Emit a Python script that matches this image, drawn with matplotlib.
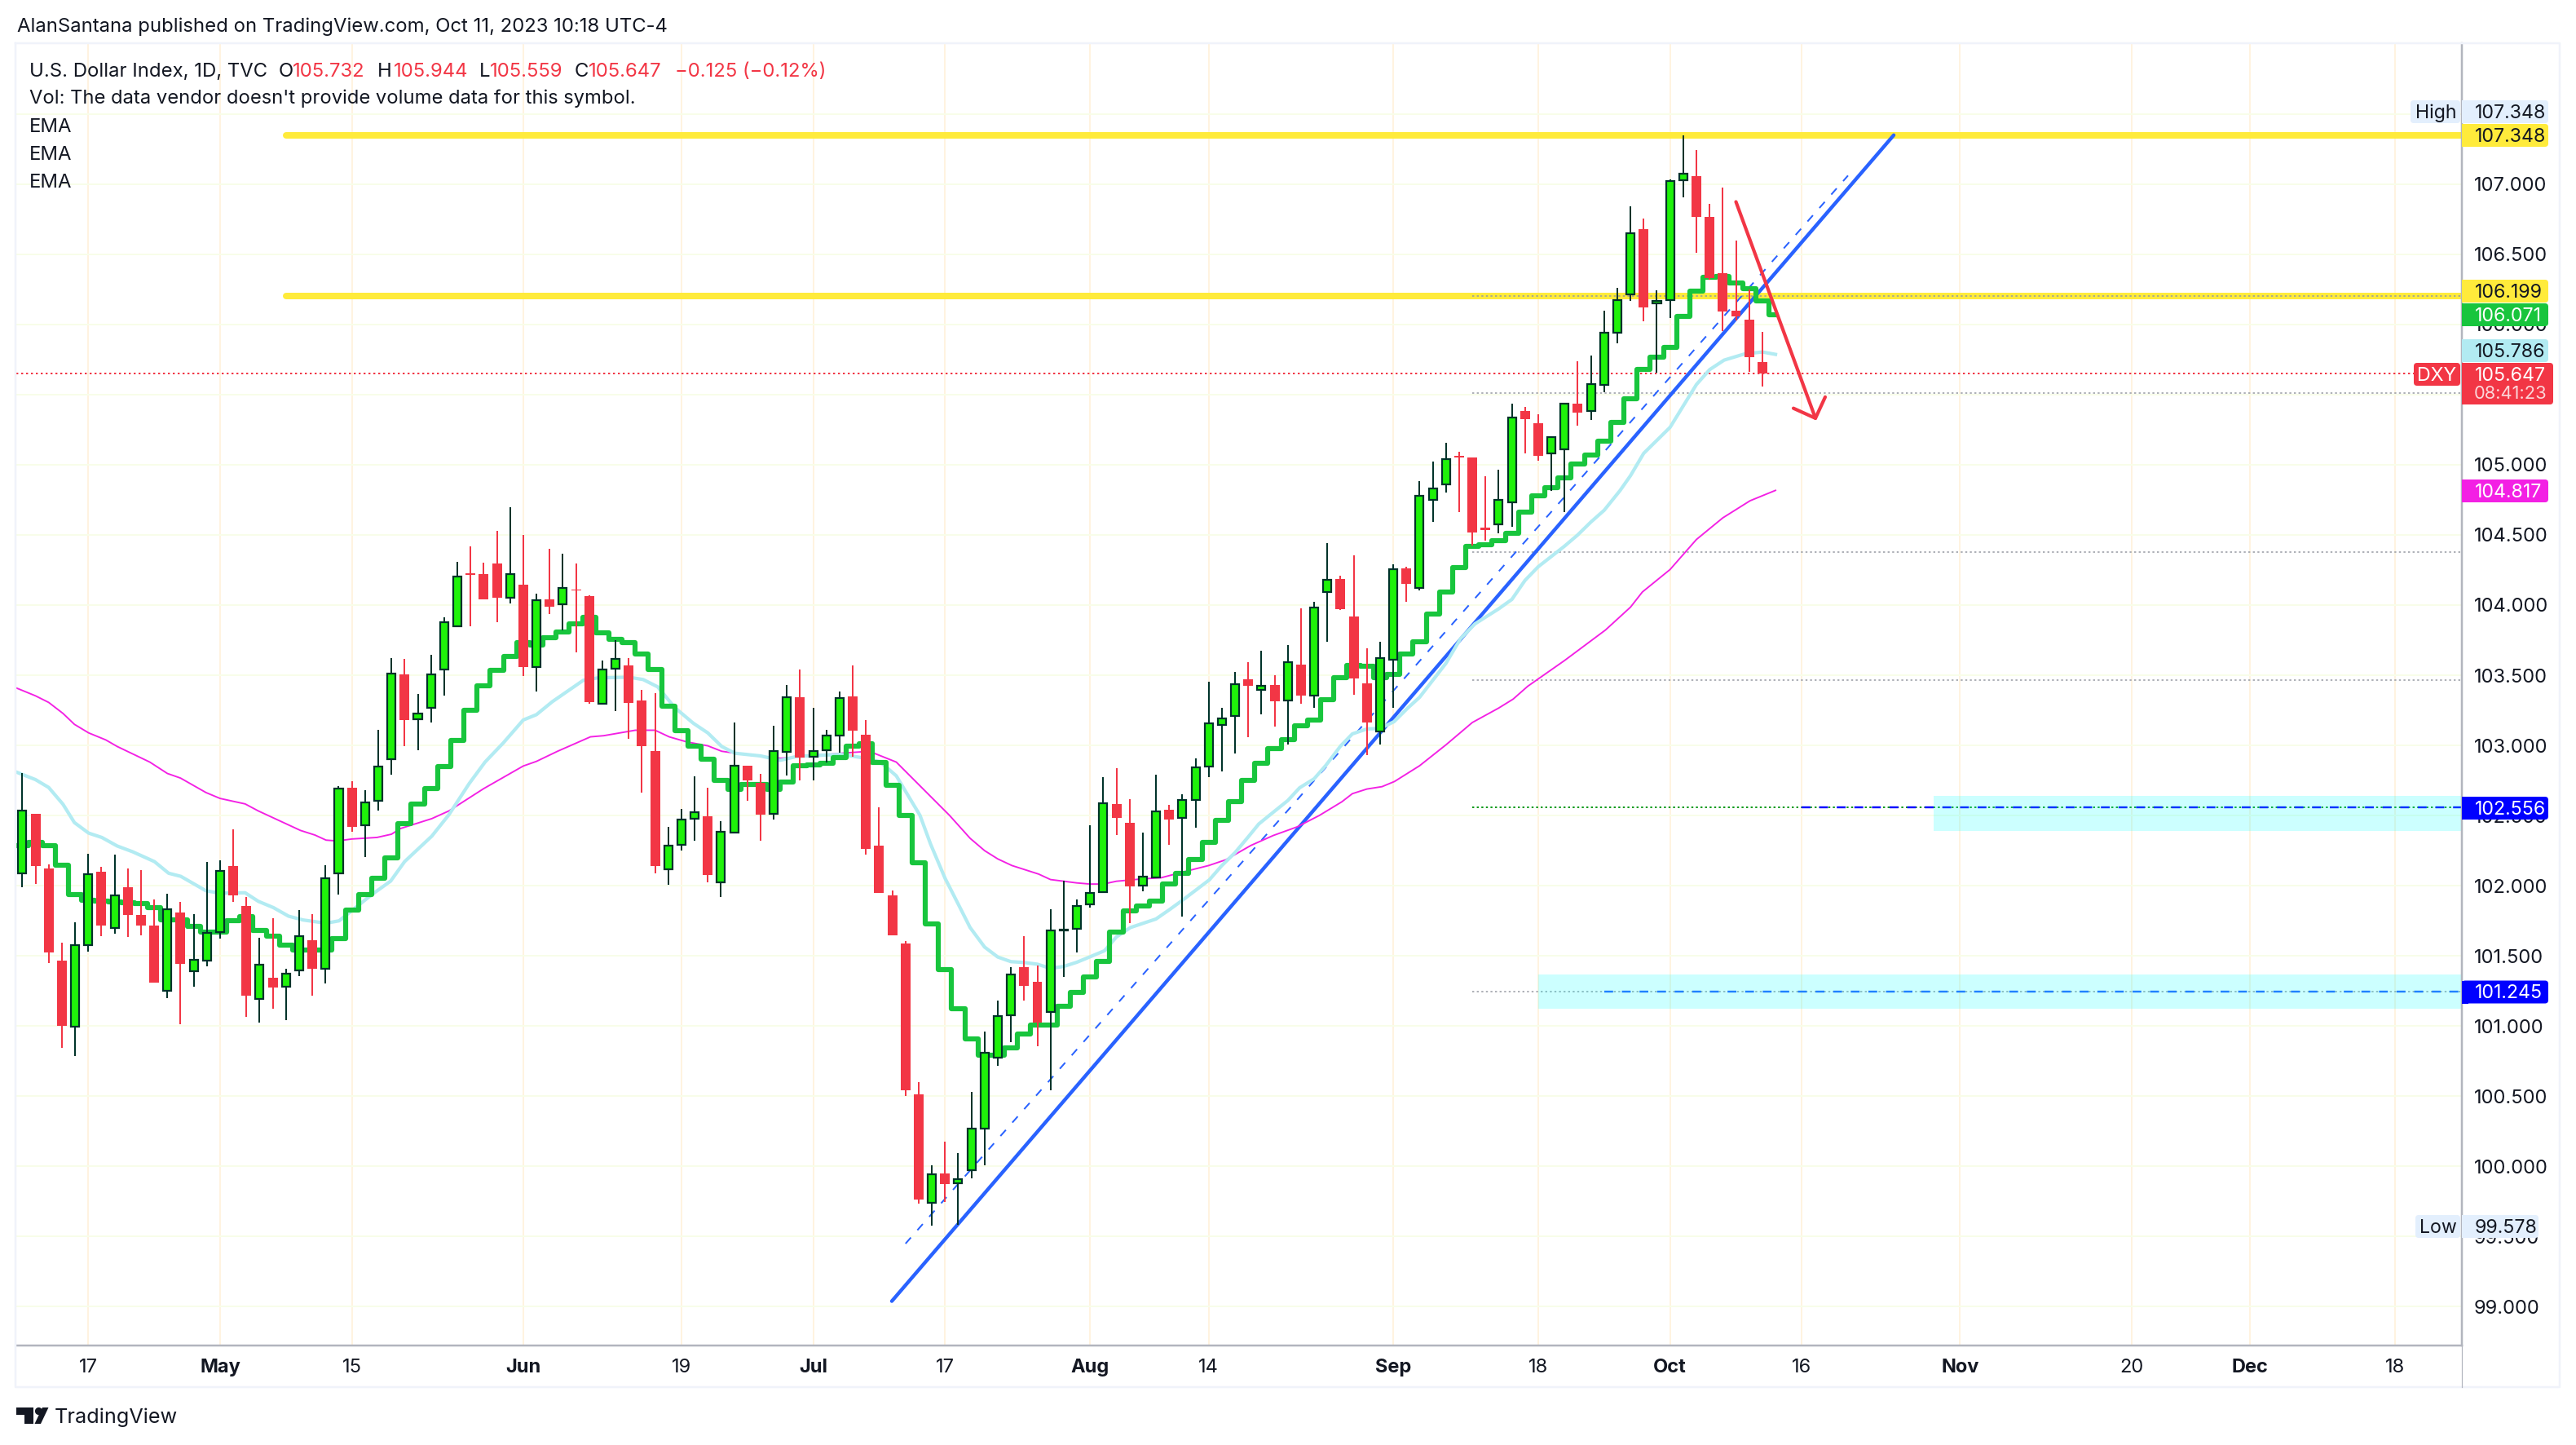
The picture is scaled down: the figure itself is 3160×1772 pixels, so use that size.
import matplotlib
matplotlib.use("Agg")
import numpy as np
import matplotlib.pyplot as plt
from matplotlib.patches import FancyBboxPatch, Rectangle, Polygon, Circle

plt.rcParams["font.family"] = ["Inter", "DejaVu Sans"]

# daily candles, index 0 is the first bar on the left
opens = [
    102.089, 102.514, 102.125, 101.469, 100.997, 101.578, 102.100, 101.700, 101.992, 101.794,
    101.717, 101.253, 101.811, 101.392, 101.469, 101.667, 102.142, 101.853, 101.194, 101.342,
    101.278, 101.397, 101.614, 101.406, 102.089, 102.700, 102.433, 102.606, 102.903, 103.506,
    103.186, 103.269, 103.542, 103.850, 104.225, 104.222, 104.297, 104.053, 104.144, 103.558,
    104.042, 104.006, 104.111, 104.061, 103.297, 103.547, 103.569, 103.319, 102.961, 102.119,
    102.294, 102.478, 102.492, 102.025, 102.381, 102.858, 102.733, 102.511, 102.956, 103.344,
    102.919, 102.967, 103.072, 103.347, 103.075, 102.283, 101.934, 101.588, 100.514, 99.739,
    99.949, 99.878, 99.971, 100.269, 100.775, 101.078, 101.421, 101.315, 101.099, 101.680,
    101.692, 101.865, 101.955, 102.580, 102.446, 102.002, 102.059, 102.540, 102.481, 102.611,
    102.847, 103.144, 103.210, 103.469, 103.394, 103.430, 103.320, 103.576, 103.353, 104.091,
    104.186, 103.919, 103.442, 103.099, 103.611, 104.261, 104.120, 104.747, 104.858, 105.061,
    105.051, 104.550, 104.573, 104.732, 105.383, 105.294, 105.080, 105.110, 105.433, 105.383,
    105.567, 105.939, 106.214, 106.679, 106.148, 106.173, 107.027, 107.056, 106.766, 106.365,
    106.097, 106.033, 105.732,
]
highs = [
    102.803, 102.514, 102.150, 101.597, 101.742, 102.228, 102.136, 102.222, 102.125, 102.114,
    101.903, 101.944, 101.886, 101.800, 102.172, 102.183, 102.403, 101.922, 101.631, 101.769,
    101.408, 101.828, 101.800, 102.147, 102.708, 102.747, 102.683, 103.111, 103.622, 103.617,
    103.367, 103.647, 103.914, 104.308, 104.419, 104.303, 104.528, 104.697, 104.500, 104.081,
    104.400, 104.367, 104.297, 104.069, 103.606, 103.747, 103.622, 103.394, 103.372, 102.419,
    102.547, 102.778, 102.700, 102.461, 103.164, 102.858, 102.797, 103.142, 103.431, 103.542,
    103.269, 103.111, 103.386, 103.569, 103.181, 102.561, 101.967, 101.606, 100.601, 100.008,
    100.177, 100.096, 100.532, 100.962, 101.182, 101.421, 101.641, 101.429, 101.832, 102.036,
    101.902, 102.432, 102.772, 102.838, 102.617, 102.379, 102.791, 102.574, 102.652, 102.908,
    103.454, 103.268, 103.523, 103.593, 103.673, 103.500, 103.715, 103.977, 104.023, 104.441,
    104.209, 104.354, 103.692, 103.738, 104.288, 104.271, 104.880, 105.022, 105.154, 105.092,
    105.051, 104.918, 104.964, 105.433, 105.410, 105.357, 105.199, 105.437, 105.735, 105.778,
    106.097, 106.258, 106.839, 106.752, 106.243, 107.033, 107.348, 107.242, 106.859, 106.975,
    106.597, 106.248, 105.944,
]
lows = [
    101.989, 102.011, 101.447, 100.844, 100.786, 101.531, 101.639, 101.656, 101.633, 101.644,
    101.311, 101.197, 101.011, 101.281, 101.425, 101.622, 101.883, 101.067, 101.025, 101.122,
    101.042, 101.356, 101.217, 101.303, 101.936, 102.383, 102.203, 102.533, 102.794, 102.994,
    102.964, 103.161, 103.353, 103.842, 103.847, 104.039, 103.878, 104.014, 103.497, 103.381,
    103.933, 103.819, 103.661, 103.297, 103.297, 103.242, 103.044, 102.661, 102.089, 102.006,
    102.250, 102.319, 102.022, 101.919, 102.381, 102.608, 102.319, 102.469, 102.783, 102.750,
    102.750, 102.881, 102.947, 102.917, 102.222, 101.947, 101.649, 100.503, 99.735, 99.578,
    99.749, 99.586, 99.916, 100.010, 100.717, 100.885, 101.182, 100.856, 100.542, 101.351,
    101.525, 101.845, 101.955, 102.362, 101.735, 101.961, 102.059, 102.291, 101.781, 102.415,
    102.772, 102.816, 102.944, 103.061, 103.223, 103.136, 103.008, 103.299, 103.270, 103.740,
    103.967, 103.363, 102.933, 103.008, 103.270, 104.025, 104.105, 104.594, 104.804, 104.664,
    104.422, 104.461, 104.513, 104.559, 105.082, 105.026, 104.815, 104.664, 105.280, 105.321,
    105.516, 105.867, 106.165, 106.022, 105.658, 106.047, 106.907, 106.510, 106.320, 105.952,
    106.026, 105.662, 105.559,
]
closes = [
    102.536, 102.139, 101.522, 101.000, 101.575, 102.083, 101.714, 101.933, 101.792, 101.714,
    101.311, 101.833, 101.442, 101.475, 101.664, 102.108, 101.931, 101.217, 101.439, 101.275,
    101.375, 101.642, 101.408, 102.056, 102.694, 102.417, 102.594, 102.850, 103.514, 103.183,
    103.228, 103.508, 103.878, 104.203, 104.217, 104.039, 104.050, 104.222, 103.556, 104.036,
    103.986, 104.122, 104.103, 103.311, 103.542, 103.617, 103.300, 102.997, 102.139, 102.286,
    102.472, 102.525, 102.075, 102.386, 102.856, 102.750, 102.506, 102.961, 103.344, 102.914,
    102.961, 103.072, 103.339, 103.103, 102.261, 101.947, 101.649, 100.542, 99.766, 99.947,
    99.872, 99.910, 100.271, 100.811, 101.074, 101.370, 101.288, 101.027, 101.684, 101.690,
    101.853, 101.951, 102.588, 102.481, 101.998, 102.067, 102.530, 102.470, 102.613, 102.846,
    103.159, 103.194, 103.438, 103.427, 103.427, 103.314, 103.595, 103.355, 103.984, 104.182,
    103.971, 103.479, 103.165, 103.624, 104.258, 104.153, 104.780, 104.833, 105.042, 105.050,
    104.519, 104.536, 104.751, 105.338, 105.326, 105.065, 105.199, 105.437, 105.373, 105.576,
    105.942, 106.175, 106.652, 106.123, 106.169, 107.023, 107.076, 106.766, 106.330, 106.093,
    106.059, 105.768, 105.647,
]

# fast EMA, one value per bar plus one more bar at the end
ema_green = [
    102.283, 102.311, 102.283, 102.144, 101.936, 101.894, 101.889, 101.886, 101.881, 101.872,
    101.844, 101.756, 101.756, 101.708, 101.672, 101.672, 101.750, 101.783, 101.681, 101.639,
    101.575, 101.542, 101.542, 101.542, 101.625, 101.825, 101.936, 102.056, 102.200, 102.442,
    102.581, 102.694, 102.847, 103.033, 103.250, 103.425, 103.536, 103.631, 103.733, 103.714,
    103.769, 103.808, 103.867, 103.914, 103.803, 103.758, 103.733, 103.650, 103.539, 103.281,
    103.103, 102.992, 102.903, 102.753, 102.686, 102.722, 102.722, 102.686, 102.736, 102.853,
    102.861, 102.875, 102.914, 102.997, 103.014, 102.881, 102.714, 102.500, 102.161, 101.726,
    101.404, 101.125, 100.907, 100.793, 100.793, 100.846, 100.946, 101.007, 101.007, 101.139,
    101.237, 101.349, 101.461, 101.669, 101.818, 101.853, 101.890, 102.010, 102.089, 102.189,
    102.311, 102.466, 102.598, 102.753, 102.875, 102.979, 103.039, 103.140, 103.183, 103.328,
    103.485, 103.572, 103.562, 103.483, 103.508, 103.649, 103.738, 103.934, 104.095, 104.269,
    104.418, 104.432, 104.457, 104.509, 104.660, 104.780, 104.835, 104.906, 105.003, 105.071,
    105.168, 105.303, 105.468, 105.681, 105.764, 105.836, 106.055, 106.239, 106.336, 106.339,
    106.297, 106.252, 106.165, 106.071,
]

# slower EMAs, read at the bends of the line
ema_cyan_x = [
    -1, 1, 2, 3.08, 3.95, 5.03, 6.03, 7.2, 8.37, 10.02, 11.1, 12.02, 13.93, 15, 16.9, 17.9,
    19.05, 20.2, 21.3, 23.04, 24.03, 25.4, 26.5, 27.94, 29, 31.06, 32.36, 33.9, 35.1, 36.5,
    38, 39, 40.2, 42.56, 43.64, 46.03, 47.1, 48.2, 49.5, 50.9, 52, 53.06, 54.06, 56, 57.5,
    58.8, 62.1, 64, 65.1, 66.3, 68.1, 68.9, 70, 71, 71.9, 73, 74, 75, 76, 77, 78, 79, 80,
    81.06, 82.1, 83, 84.06, 86, 87.06, 88, 89, 90.05, 91, 92, 93, 93.8, 94.6, 96, 96.9, 98,
    98.9, 100, 100.9, 102, 103, 104.06, 105.1, 106, 108, 109.1, 110.2, 112, 113, 114, 115,
    117, 118, 119, 120, 121.2, 122, 123, 125, 127, 128, 129.1, 130.65, 132, 133,
]
ema_cyan = [
    102.83, 102.756, 102.700, 102.581, 102.450, 102.375, 102.344, 102.283, 102.242, 102.172,
    102.089, 102.067, 101.964, 101.947, 101.950, 101.889, 101.844, 101.783, 101.756, 101.733,
    101.750, 101.853, 101.936, 102.033, 102.172, 102.353, 102.506, 102.728, 102.881, 103.019,
    103.181, 103.219, 103.311, 103.464, 103.481, 103.486, 103.469, 103.417, 103.269, 103.158,
    103.089, 102.992, 102.944, 102.925, 102.894, 102.922, 102.936, 102.908, 102.881, 102.783,
    102.501, 102.297, 102.053, 101.869, 101.702, 101.563, 101.492, 101.459, 101.453, 101.441,
    101.411, 101.425, 101.455, 101.496, 101.537, 101.635, 101.702, 101.763, 101.832, 101.896,
    101.967, 102.042, 102.144, 102.236, 102.348, 102.440, 102.501, 102.607, 102.698, 102.762,
    102.859, 102.995, 103.082, 103.117, 103.121, 103.169, 103.266, 103.343, 103.585, 103.760,
    103.866, 103.973, 104.040, 104.176, 104.273, 104.420, 104.500, 104.592, 104.675, 104.815,
    104.922, 105.081, 105.266, 105.571, 105.677, 105.745, 105.789, 105.803, 105.786,
]
ema_pink_x = [
    -1, 1, 2, 3.08, 3.95, 5.03, 6.33, 7.2, 9.67, 11, 12, 13.93, 15, 16.9, 17.9, 21.1, 22.2,
    23.04, 23.9, 25, 26.9, 28, 28.7, 31.06, 32.36, 35, 38, 39, 40.6, 43.1, 44.1, 46.5, 48,
    49.07, 50.4, 52, 53.06, 55.14, 57.5, 59, 62.1, 64.25, 66.3, 70.34, 71.9, 73, 74, 75.07,
    77.1, 78, 80, 81, 82, 83, 85, 86.4, 87.85, 90, 91.3, 93.2, 94.9, 96.7, 98.4, 100.1, 100.9,
    102, 103.15, 104.1, 106, 108, 110, 112, 113.1, 114.2, 117, 120.1, 122, 122.9, 125, 127,
    129, 131.07, 133,
]
ema_pink = [
    103.43, 103.353, 103.306, 103.228, 103.150, 103.089, 103.039, 102.992, 102.881, 102.800,
    102.767, 102.664, 102.622, 102.583, 102.533, 102.394, 102.361, 102.325, 102.319, 102.333,
    102.344, 102.367, 102.408, 102.478, 102.533, 102.692, 102.853, 102.886, 102.958, 103.061,
    103.069, 103.108, 103.108, 103.061, 103.025, 102.997, 102.958, 102.931, 102.908, 102.919,
    102.944, 102.958, 102.881, 102.501, 102.338, 102.250, 102.191, 102.144, 102.083, 102.044,
    102.020, 102.012, 102.012, 102.032, 102.049, 102.057, 102.093, 102.144, 102.185, 102.287,
    102.358, 102.419, 102.501, 102.598, 102.656, 102.689, 102.706, 102.743, 102.855, 103.004,
    103.163, 103.266, 103.330, 103.421, 103.605, 103.822, 103.985, 104.093, 104.253, 104.467,
    104.621, 104.743, 104.817,
]

# drawings on the chart: (bar, price) pairs
trend_x = [65.96, 141.97]
trend_y = [99.04, 107.348]
trend_dash_x = [67.0, 138.5]
trend_dash_y = [99.45, 107.06]
arrow_x = [130.0, 136.03]
arrow_y = [106.873, 105.331]
arrow_head_x = [134.36, 136.03, 136.77]
arrow_head_y = [105.402, 105.331, 105.482]

yellow_levels = [107.348, 106.199]
yellow_start = 20.0
grey_levels = [106.199, 105.51, 104.38, 103.465, 101.245]
green_level = 102.556
level_start = 110
last_close = 105.647
zone_top = [102.64, 101.367]
zone_bottom = [102.39, 101.122]
zone_start = [145, 115]
zone_dash_level = [102.556, 101.245]
zone_dash_start = [135, 120]

# axes
price_ticks = [99.0, 99.5, 100.0, 100.5, 101.0, 101.5, 102.0, 102.5, 103.0, 103.5, 104.0,
               104.5, 105.0, 105.5, 106.0, 106.5, 107.0, 107.5]
time_ticks = [5, 15, 25, 38, 50, 60, 70, 81, 90, 104, 115, 125, 135, 147, 160, 169, 180]
time_labels = ["17", "May", "15", "Jun", "19", "Jul", "17", "Aug", "14", "Sep", "18", "Oct",
               "16", "Nov", "20", "Dec", "18"]
month_labels = ["May", "Jun", "Jul", "Aug", "Sep", "Oct", "Nov", "Dec"]

W, H = 3160, 1772
PX = 72 / 200  # one pixel in points
TEXT = "#131722"
RED = "#F23645"
BLUE = "#2962FF"

fig = plt.figure(figsize=(W / 200, H / 200), dpi=200, facecolor="white")
left, right, top, bottom = 20, 3020, 53, 1650
ax = fig.add_axes([left / W, 1 - bottom / H, (right - left) / W, (bottom - top) / H])
ax.set_xlim(-0.458, 185.07)
ax.set_ylim(98.724, 108.003)

ax.set_axisbelow(True)
ax.grid(True, axis="x", color="#FFF3E0", lw=2 * PX)
ax.grid(True, axis="y", color="#F8FDE9", lw=2 * PX)
ax.set_xticks(time_ticks)
ax.set_xticklabels(time_labels)
ax.set_yticks(price_ticks)
ax.set_yticklabels([f"{p:.3f}" for p in price_ticks])
ax.yaxis.tick_right()
ax.tick_params(axis="y", length=0, pad=15 * PX, labelsize=8.5, labelcolor=TEXT)
ax.tick_params(axis="x", length=0, pad=16 * PX, labelsize=8.5, labelcolor=TEXT)
for lab in ax.get_xticklabels():
    if lab.get_text() in month_labels:
        lab.set_fontweight("bold")
for name in ["top", "left"]:
    ax.spines[name].set_visible(False)
for name in ["right", "bottom"]:
    ax.spines[name].set_color("#B2B5BE")
    ax.spines[name].set_linewidth(2.5 * PX)

# levels and zones
xmax = ax.get_xlim()[1]
for lvl in yellow_levels:
    ax.plot([yellow_start, xmax], [lvl, lvl], color="#FFEB3B", lw=8 * PX, solid_capstyle="round", zorder=2)
ax.plot([ax.get_xlim()[0], xmax], [last_close, last_close], color=RED, lw=2 * PX,
        ls=(0, (1.2, 1.8)), zorder=2.1)
for lvl in grey_levels:
    ax.plot([level_start, xmax], [lvl, lvl], color="#9598A1", lw=2 * PX, ls=(0, (1.2, 1.6)),
            alpha=0.75, zorder=2.2)
ax.plot([level_start, xmax], [green_level, green_level], color="#089A1A", lw=2 * PX,
        ls=(0, (1.2, 1.6)), zorder=2.2)
for lvl, start, y0, y1, bar0 in zip(zone_dash_level, zone_dash_start, zone_bottom, zone_top, zone_start):
    dash_color = "#0000FF" if lvl == zone_dash_level[0] else BLUE
    ax.plot([start, xmax], [lvl, lvl], color=dash_color, lw=2.4 * PX, ls=(0, (4.5, 4.5)), zorder=2.3)
    ax.add_patch(Rectangle((bar0, y0), xmax - bar0, y1 - y0, facecolor=(0, 1, 1, 0.2),
                           edgecolor="none", zorder=2.4))

# trend lines
ax.plot(trend_x, trend_y, color=BLUE, lw=4.4 * PX, solid_capstyle="round", zorder=3)
ax.plot(trend_dash_x, trend_dash_y, color=BLUE, lw=2 * PX, ls=(0, (5, 6)), zorder=3)

# emas
ax.plot(ema_pink_x, ema_pink, color="#F320E4", lw=1.9 * PX, zorder=3.2)
ax.plot(ema_cyan_x, ema_cyan, color="#B2EBF2", lw=4.2 * PX, zorder=3.4)
ema_bars = np.arange(len(ema_green))
ax.plot(np.r_[-1, ema_bars], np.r_[ema_green[0], ema_green], drawstyle="steps-mid", color="#18C53D",
        lw=6.2 * PX, solid_joinstyle="round", zorder=3.6)

# candles
bars = np.arange(len(opens))
o = np.array(opens)
c = np.array(closes)
up = c >= o
ax.vlines(bars[up], np.array(lows)[up], np.array(highs)[up], color="#00332A", lw=2 * PX, zorder=4)
ax.vlines(bars[~up], np.array(lows)[~up], np.array(highs)[~up], color=RED, lw=2 * PX, zorder=4)
ax.bar(bars[~up], (o - c)[~up], bottom=c[~up], width=0.74, color=RED, linewidth=0, zorder=4.2)
ax.bar(bars[up], (c - o)[up], bottom=o[up], width=0.62, color="#1FF20A", edgecolor="#00332A",
       linewidth=2.2 * PX, zorder=4.2)

# arrow
ax.plot(arrow_x, arrow_y, color=RED, lw=4.2 * PX, solid_capstyle="round", zorder=5)
ax.plot(arrow_head_x, arrow_head_y, color=RED, lw=4.2 * PX, solid_capstyle="round",
        solid_joinstyle="round", zorder=5)

# everything around the plot in pixels
ov = fig.add_axes([0, 0, 1, 1], facecolor="none")
ov.set_xlim(0, W)
ov.set_ylim(H, 0)
ov.axis("off")


def write(x, y, s, color=TEXT, size=8.6, ha="left", weight="normal"):
    return ov.text(x, y, s, color=color, fontsize=size, ha=ha, va="center", fontweight=weight)


def pill(x0, x1, yc, color, h=28):
    ov.add_patch(FancyBboxPatch((x0, yc - h / 2), x1 - x0, h, boxstyle="round,pad=0,rounding_size=4",
                                facecolor=color, edgecolor="none", zorder=6))


def pill_text(x, yc, s, color=TEXT, ha="left", size=8.35):
    write(x, yc + 1.5, s, color, size=size, ha=ha).set_zorder(7)


def axis_pill(yc, s, color, text_color, x1=3126, h=28):
    pill(3020, x1, yc, color, h)
    ov.add_patch(Rectangle((3020, yc - h / 2), 8, h, facecolor=color, edgecolor="none", zorder=6))
    pill_text(3036, yc, s, text_color)


# panel border
ov.plot([19, 3140, 3140, 19, 19], [53, 53, 1701, 1701, 53], color="#F0F3FA", lw=2.5 * PX)
ov.plot([3020, 3020], [1650, 1701], color="#B2B5BE", lw=1.2 * PX)

write(21, 33, "AlanSantana published on TradingView.com, Oct 11, 2023 10:18 UTC-4", size=8.6)
write(36, 88, "U.S. Dollar Index, 1D, TVC")
legend_items = [(342, "O", TEXT), (359, "105.732", RED), (463, "H", TEXT), (483, "105.944", RED),
                (588, "L", TEXT), (601, "105.559", RED), (705, "C", TEXT), (722, "105.647", RED),
                (828, "\u22120.125 (\u22120.12%)", RED)]
for lx, s, col in legend_items:
    write(lx, 88, s, col)
write(36, 120.5, "Vol: The data vendor doesn't provide volume data for this symbol.", size=8.55)
for ly in [156, 190, 224]:
    write(36, ly, "EMA")

# price labels on the axis
pill(2957, 3018, 137, "#E3EFFD")
pill_text(2988, 137, "High", ha="center")
axis_pill(137, "107.348", "#E3EFFD", TEXT)
axis_pill(166, "107.348", "#FFEB3B", TEXT)
axis_pill(357, "106.199", "#FFEB3B", TEXT)
axis_pill(386, "106.071", "#18C53D", "white")
axis_pill(430, "105.786", "#B2EBF2", TEXT)
pill(2961, 3018, 459, RED)
pill_text(2989, 459, "DXY", "white", ha="center")
axis_pill(470.5, "", RED, "white", x1=3132, h=51)
pill_text(3036, 459, "105.647", "white")
pill_text(3035, 481, "08:41:23", "#FBD5D8", size=7.9)
axis_pill(602, "104.817", "#F320E4", "white")
axis_pill(991, "102.556", "#0000FF", "white")
axis_pill(1216.5, "101.245", "#0000FF", "white")
pill(2963, 3018, 1504, "#E3EFFD")
pill_text(2991, 1504, "Low", ha="center")
axis_pill(1504, "99.578", "#E3EFFD", TEXT, x1=3114)

# logo
ov.add_patch(Polygon([(20, 1726), (41, 1726), (41, 1746), (30, 1746), (30, 1735), (20, 1735)],
                     facecolor=TEXT, edgecolor="none"))
ov.add_patch(Circle((47.5, 1730.5), 4.6, facecolor=TEXT, edgecolor="none"))
ov.add_patch(Polygon([(52, 1726), (59.5, 1726), (50, 1746), (42.5, 1746)], facecolor=TEXT, edgecolor="none"))
write(67, 1738, "TradingView", size=9.1)

fig.savefig("out.png", dpi=200, facecolor="white")
